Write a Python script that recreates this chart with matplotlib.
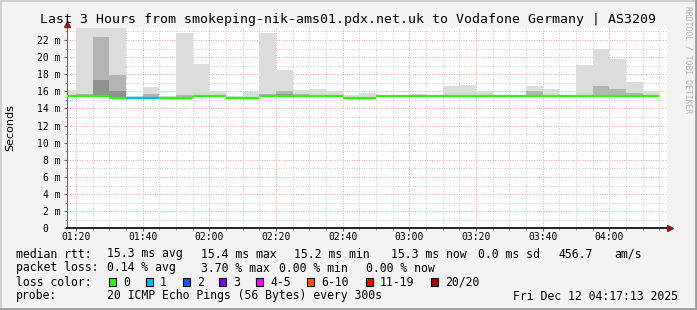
import numpy as np
import matplotlib
matplotlib.use('Agg')
import matplotlib.pyplot as plt
from matplotlib.patches import Rectangle
from matplotlib.lines import Line2D

# 5 minute slots (start of slot), median rtt in ms, lost pings out of 20
slots = ['01:15', '01:20', '01:25', '01:30', '01:35', '01:40', '01:45', '01:50', '01:55',
         '02:00', '02:05', '02:10', '02:15', '02:20', '02:25', '02:30', '02:35', '02:40',
         '02:45', '02:50', '02:55', '03:00', '03:05', '03:10', '03:15', '03:20', '03:25',
         '03:30', '03:35', '03:40', '03:45', '03:50', '03:55', '04:00', '04:05', '04:10']
median = [15.4, 15.4, 15.4, 15.26, 15.26, 15.26, 15.26, 15.26, 15.4,
          15.4, 15.26, 15.26, 15.4, 15.4, 15.4, 15.4, 15.4, 15.26,
          15.26, 15.4, 15.4, 15.4, 15.4, 15.4, 15.4, 15.4, 15.4,
          15.4, 15.4, 15.4, 15.4, 15.4, 15.4, 15.4, 15.4, 15.4]
loss = [0, 0, 0, 0, 1, 1, 0, 0, 0,
        0, 0, 0, 0, 0, 0, 0, 0, 0,
        0, 0, 0, 0, 0, 0, 0, 0, 0,
        0, 0, 0, 0, 0, 0, 0, 0, 0]
# smoke: outer band top, middle band top, inner band top (ms)
nan = np.nan
smoke_top = [16.15, 24.5, 24.5, 24.5, 15.45, 16.5, 15.45, 22.85, 19.2,
             16.05, 15.4, 15.9, 22.85, 18.5, 16.15, 16.3, 16.05, 15.6,
             15.8, 15.6, 15.45, 15.65, 15.45, 16.6, 16.75, 16.0, 15.6,
             15.6, 16.6, 16.3, 15.45, 19.1, 20.95, 19.8, 17.1, 16.0]
smoke_mid = [nan, 15.65, 22.4, 17.9, nan, 15.7, nan, 15.6, 15.6,
             nan, nan, nan, 15.7, 16.05, 15.7, nan, nan, nan,
             nan, nan, nan, nan, nan, nan, nan, nan, nan,
             nan, 16.05, nan, nan, 15.6, 16.6, 16.3, 15.8, nan]
smoke_core = [nan, nan, 17.3, 16.0, nan, nan, nan, nan, nan,
              nan, nan, nan, nan, 15.7, nan, nan, nan, nan,
              nan, nan, nan, nan, nan, nan, nan, nan, nan,
              nan, nan, nan, nan, nan, nan, nan, nan, nan]

loss_labels = ['0', '1', '2', '3', '4-5', '6-10', '11-19', '20/20']
loss_colors = ['#26ff00', '#00b8ff', '#0059ff', '#7e00ff', '#ff00ff', '#ff5500', '#ff0000', '#a10000']

W, H = 697, 310
def fx(x): return x / W
def fy(y): return 1 - y / H

mono = 'DejaVu Sans Mono'
fig = plt.figure(figsize=(W / 100, H / 100), dpi=100, facecolor='#f3f3f3')

# plot area (pixels): x 66.7..666.7, y 28..228.3
ax = fig.add_axes([fx(66.7), fy(228.3), (666.7 - 66.7) / W, (228.3 - 28) / H])
ax.set_facecolor('white')

t0 = 77 + 13 / 60.0  # 01:17:13 in minutes
ax.set_xlim(t0, t0 + 180)
ax.set_ylim(0, 23.4)

tmin = np.array([int(s[:2]) * 60 + int(s[3:]) for s in slots], dtype=float)
med = np.array(median)
bottom = med - 0.1
top = np.array(smoke_top)
mid = np.array(smoke_mid)
core = np.array(smoke_core)

ax.bar(tmin, top - bottom, bottom=bottom, width=5, align='edge', color='#dcdcdc', linewidth=0, zorder=2)
ok = ~np.isnan(mid)
ax.bar(tmin[ok], mid[ok] - bottom[ok], bottom=bottom[ok], width=5, align='edge', color='#b4b4b4', linewidth=0, zorder=2)
ok = ~np.isnan(core)
ax.bar(tmin[ok], core[ok] - bottom[ok], bottom=bottom[ok], width=5, align='edge', color='#909090', linewidth=0, zorder=2)

# median line coloured by loss
for i in range(len(slots)):
    ax.hlines(median[i], tmin[i], tmin[i] + 5, colors=loss_colors[loss[i]], linewidth=1.6, zorder=4)

# grid
dot = (0, (1, 1.5))
for x in np.arange(80, 260, 5):
    c = '#f0a0a0' if x % 20 == 0 else '#cccccc'
    ax.axvline(x, color=c, lw=0.7, ls=dot, zorder=1)
for y in range(1, 24):
    c = '#f0a0a0' if y % 2 == 0 else '#cccccc'
    ax.axhline(y, color=c, lw=0.7, ls=dot, zorder=1)

xt = np.arange(80, 241, 20)
ax.set_xticks(xt)
ax.set_xticklabels(['%02d:%02d' % (m // 60, m % 60) for m in xt], fontfamily=mono, fontsize=7)
ax.set_xticks(np.arange(80, 260, 5), minor=True)
yt = np.arange(0, 23, 2)
ax.set_yticks(yt)
ax.set_yticklabels(['%d m' % v if v else '0  ' for v in yt], fontfamily=mono, fontsize=7)
ax.set_yticks(np.arange(0, 24, 1), minor=True)
ax.tick_params(axis='both', which='major', length=2.5, width=0.8, color='#666666', pad=2)
ax.tick_params(axis='x', which='major', pad=0.5)
ax.tick_params(axis='both', which='minor', length=1.5, width=0.6, color='#888888')

for s in ['top', 'right']:
    ax.spines[s].set_visible(False)
ax.spines['left'].set_color('#666666')
ax.spines['bottom'].set_color('black')
ax.spines['bottom'].set_linewidth(1.2)
ax.spines['bottom'].set_zorder(5)

# axis arrows
fig.add_artist(Line2D([fx(66.7)], [fy(24)], marker='^', color='#8b1a1a', markersize=4))
fig.add_artist(Line2D([fx(666.7), fx(670)], [fy(228.3), fy(228.3)], color='black', lw=1.2))
fig.add_artist(Line2D([fx(670)], [fy(228.3)], marker='>', color='#8b1a1a', markersize=4))

fig.text(fx(347.5), fy(19.3), 'Last 3 Hours from smokeping-nik-ams01.pdx.net.uk to Vodafone Germany | AS3209',
         ha='center', va='center', fontfamily=mono, fontsize=9.5)
fig.text(fx(10), fy(128), 'Seconds', rotation=90, ha='center', va='center', fontsize=8)
fig.text(fx(688), fy(60), 'RRDTOOL / TOBI OETIKER', rotation=270, ha='center', va='center',
         fontfamily=mono, fontsize=5.8, color='#b4b4b4')

# legend rows
fs = 8.3
rows = [
    (254, [(16, 'median rtt:'), (107.3, '15.3 ms avg'), (200.7, '15.4 ms max'), (294, '15.2 ms min'),
           (391, '15.3 ms now'), (477.7, '0.0 ms sd'), (558, '456.7'), (614, 'am/s')]),
    (268, [(16, 'packet loss:'), (107.3, '0.14 % avg'), (200.7, '3.70 % max'), (279.3, '0.00 % min'),
           (366, '0.00 % now')]),
    (282, [(16, 'loss color:')]),
    (296, [(16, 'probe:'), (107.3, '20 ICMP Echo Pings (56 Bytes) every 300s'), (513.3, 'Fri Dec 12 04:17:13 2025')]),
]
for y, items in rows:
    for x, s in items:
        fig.text(fx(x), fy(y), s, ha='left', va='center', fontfamily=mono, fontsize=fs)

box_x = [109.3, 146, 182.7, 219.3, 256, 307.3, 365.7, 430.7]
for bx, lab, col in zip(box_x, loss_labels, loss_colors):
    fig.add_artist(Rectangle((fx(bx), fy(286)), 7 / W, 8 / H, facecolor=col, edgecolor='black', lw=0.8))
    fig.text(fx(bx + 14), fy(282), lab, ha='left', va='center', fontfamily=mono, fontsize=fs)

# 3d frame
fig.add_artist(Line2D([0, 1], [fy(0.5), fy(0.5)], color='#cfcfcf', lw=1.5))
fig.add_artist(Line2D([fx(0.5), fx(0.5)], [0, 1], color='#cfcfcf', lw=1.5))
fig.add_artist(Line2D([0, 1], [fy(309), fy(309)], color='#9c9c9c', lw=2))
fig.add_artist(Line2D([fx(696), fx(696)], [0, 1], color='#9c9c9c', lw=2))

fig.savefig('out.png', dpi=100, facecolor=fig.get_facecolor())
